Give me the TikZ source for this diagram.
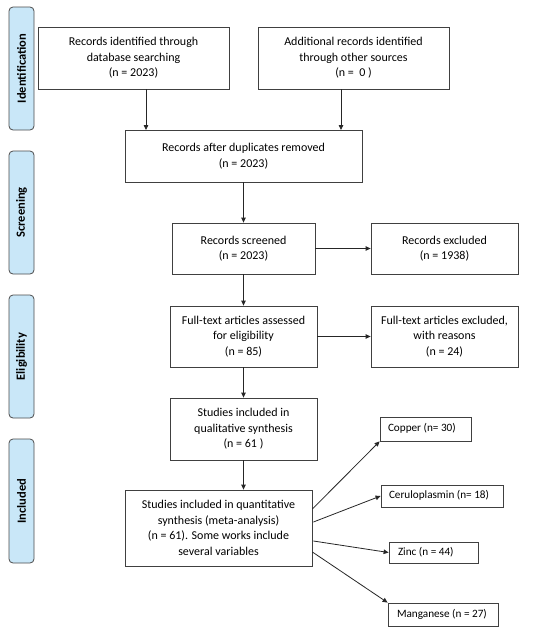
\documentclass[tikz,border=0pt]{standalone}
\usepackage{fontspec}
\setmainfont{Carlito}
\usetikzlibrary{arrows.meta,calc}
\begin{document}
\begin{tikzpicture}[x=1pt,y=-1pt,
  box/.style={draw=black!75, line width=0.8pt, align=center, inner sep=0pt,
    font=\fontsize{12}{15.5}\selectfont},
  small/.style={draw=black!75, line width=0.8pt, inner sep=0pt, text height=8pt, text depth=2.5pt,
    font=\fontsize{11.2}{13}\selectfont},
  side/.style={draw=black!70, fill={rgb,255:red,201;green,231;blue,248}, line width=0.8pt, rounded corners=4pt,
    rotate=90, minimum height=25pt, inner sep=0pt, font=\fontsize{12.5}{14}\selectfont\bfseries},
  arr/.style={-{Triangle[length=5pt,width=4.5pt]}, line width=0.8pt, draw=black!85}]
\useasboundingbox (0,0) rectangle (550,632);
\fill[white] (0,0) rectangle (550,632);
% side labels
\node[side, minimum width=123pt] (s1) at (21.5,68.5) {Identification};
\node[side, minimum width=123pt] (s2) at (21.5,212.5) {Screening};
\node[side, minimum width=123pt] (s3) at (21.5,356.5) {Eligibility};
\node[side, minimum width=124pt] (s4) at (21.5,501) {Included};
% boxes
\node[box, minimum width=191pt, minimum height=62pt] (A) at (133.5,58) {Records identified through\\database searching\\(n = 2023)};
\node[box, minimum width=191pt, minimum height=62pt] (B) at (353.5,58) {Additional records identified\\through other sources\\(n = \ 0 )};
\node[box, minimum width=237pt, minimum height=52pt] (C) at (243.5,156) {Records after duplicates removed\\(n = 2023)};
\node[box, minimum width=143pt, minimum height=51pt] (D) at (243.5,248.5) {Records screened\\(n = 2023)};
\node[box, minimum width=147pt, minimum height=51pt] (E) at (444.5,248.5) {Records excluded\\(n = 1938)};
\node[box, minimum width=147pt, minimum height=61pt] (F) at (243.5,336.5) {Full-text articles assessed\\for eligibility\\(n = 85)};
\node[box, minimum width=147pt, minimum height=61pt] (G) at (444.5,336.5) {Full-text articles excluded,\\with reasons\\(n = 24)};
\node[box, minimum width=147pt, minimum height=62pt] (H) at (243.5,429) {Studies included in\\qualitative synthesis\\(n = 61 )};
\node[box, minimum width=187pt, minimum height=76pt] (I) at (218.5,528) {Studies included in quantitative\\synthesis (meta-analysis)\\(n = 61). Some works include\\several variables};
\node[small, minimum height=24pt] (Cu) at (425.5,429) {\makebox[91pt][l]{\hspace*{8pt}Copper (n= 30)}};
\node[small, minimum height=22pt] (Ce) at (442,496) {\makebox[122pt][l]{\hspace*{8pt}Ceruloplasmin (n= 18)}};
\node[small, minimum height=21pt] (Zn) at (433.5,552.5) {\makebox[89pt][l]{\hspace*{9pt}Zinc (n = 44)}};
\node[small, minimum height=23pt] (Mn) at (443,614.5) {\makebox[110pt][l]{\hspace*{9pt}Manganese (n = 27)}};
% helper coordinates
\coordinate (a1) at (146,89);
\coordinate (c1) at (146,130);
\coordinate (b1) at (341,89);
\coordinate (c2) at (341,130);
\coordinate (i1) at ($(I.east)+(0,-19)$);
\coordinate (i2) at ($(I.east)+(1,-6)$);
\coordinate (i3) at ($(I.east)+(1,13)$);
\coordinate (i4) at ($(I.east)+(0,24)$);
% arrows
\draw[arr] (a1) -- (c1);
\draw[arr] (b1) -- (c2);
\draw[arr] (C) -- (D);
\draw[arr] (D) -- (E);
\draw[arr] (D) -- (F);
\draw[arr] (F) -- (G);
\draw[arr] (F) -- (H);
\draw[arr] (H) -- (H |- I.north);
\draw[arr] (i1) -- (Cu.south west);
\draw[arr] (i2) -- (Ce.west);
\draw[arr] (i3) -- (Zn.west);
\draw[arr] (i4) -- (Mn.north west);
\end{tikzpicture}
\end{document}
